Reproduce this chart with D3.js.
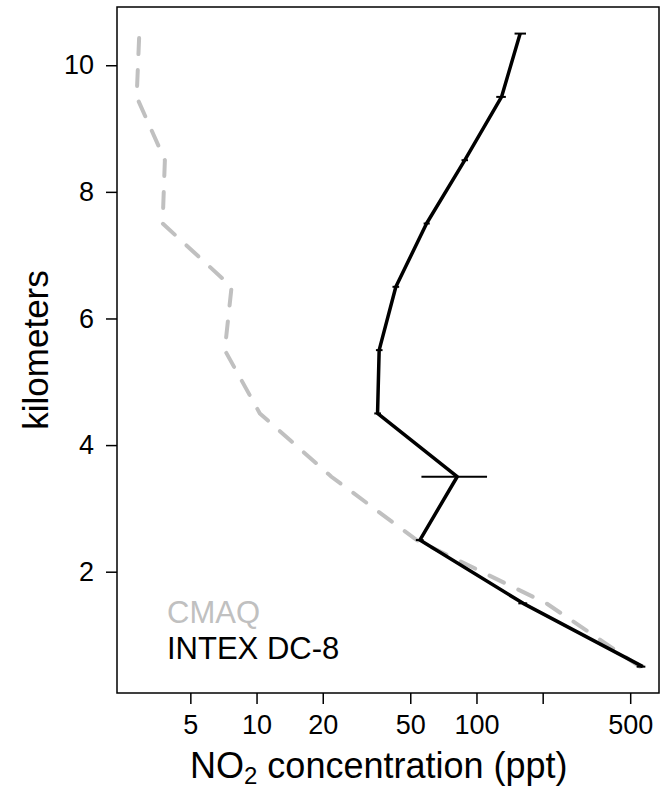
<!DOCTYPE html>
<html>
<head>
  <title>NO2 profile</title>
  <style>
    body { margin: 0; background: #fff; }
    #chart { width: 662px; height: 791px; }
    text { font-family: "Liberation Sans", Arial, sans-serif; }
  </style>
</head>
<body>
  <div id="chart"></div>

  <script src="https://d3js.org/d3.v7.min.js"></script>
  <script>
    // altitude bins (km)
    const altitudes = [0.5, 1.5, 2.5, 3.5, 4.5, 5.5, 6.5, 7.5, 8.5, 9.5, 10.5];
    // INTEX DC-8 observed NO2 (ppt) with error bar ends
    const intex = [571, 163, 55.3, 81.7, 35.5, 36.1, 43, 59.3, 88.5, 130, 158];
    const intexLo = [535, 155, 53, 56.2, 34.3, 34.9, 41.5, 57.5, 85.5, 123, 149];
    const intexHi = [586, 170, 57.5, 111.7, 36.8, 37.4, 44.5, 61.3, 91.5, 136, 168];
    // CMAQ modelled NO2 (ppt)
    const cmaq = [552, 208, 53.5, 21.9, 10.35, 7.17, 7.7, 3.74, 3.83, 2.85, 2.93];

    const xTicks = [5, 10, 20, 50, 100, 200, 500];
    const yTicks = [2, 4, 6, 8, 10];

    const W = 662, H = 791;
    const plotL = 117, plotR = 659, plotT = 7, plotB = 693;

    const svg = d3.select("#chart")
      .append("svg")
      .attr("width", W)
      .attr("height", H);

    const x = d3.scaleLog()
      .domain([2.32, 676])
      .range([plotL, plotR]);

    const y = d3.scaleLinear()
      .domain([0.084, 10.92])
      .range([plotB, plotT]);

    // axes
    const xAxis = svg.append("g")
      .attr("transform", `translate(0,${plotB})`)
      .call(d3.axisBottom(x)
        .tickValues(xTicks)
        .tickFormat(d => d === 200 ? "" : d)
        .tickSize(11)
        .tickPadding(11));

    const yAxis = svg.append("g")
      .attr("transform", `translate(${plotL},0)`)
      .call(d3.axisLeft(y)
        .tickValues(yTicks)
        .tickSize(11)
        .tickPadding(12));

    [xAxis, yAxis].forEach(g => {
      g.select(".domain").remove();
      g.selectAll("line").attr("stroke", "#000").attr("stroke-width", 1.5);
      g.selectAll("text")
        .attr("fill", "#000")
        .style("font-size", "27px");
    });

    // plot box
    svg.append("rect")
      .attr("x", plotL)
      .attr("y", plotT)
      .attr("width", plotR - plotL)
      .attr("height", plotB - plotT)
      .attr("fill", "none")
      .attr("stroke", "#000")
      .attr("stroke-width", 1.5);

    const line = d3.line()
      .x(d => x(d[0]))
      .y(d => y(d[1]));

    // CMAQ dashed
    svg.append("path")
      .datum(altitudes.map((a, i) => [cmaq[i], a]))
      .attr("d", line)
      .attr("fill", "none")
      .attr("stroke", "#c0c0c0")
      .attr("stroke-width", 4)
      .attr("stroke-dasharray", "16,16")
      .attr("stroke-linecap", "round");

    // INTEX line
    svg.append("path")
      .datum(altitudes.map((a, i) => [intex[i], a]))
      .attr("d", line)
      .attr("fill", "none")
      .attr("stroke", "#000")
      .attr("stroke-width", 3.5)
      .attr("stroke-linejoin", "round");

    // error bars
    svg.selectAll(".err")
      .data(altitudes)
      .enter()
      .append("line")
      .attr("class", "err")
      .attr("x1", (d, i) => x(intexLo[i]))
      .attr("x2", (d, i) => x(intexHi[i]))
      .attr("y1", d => y(d))
      .attr("y2", d => y(d))
      .attr("stroke", "#000")
      .attr("stroke-width", 2);

    // axis titles
    svg.append("text")
      .attr("x", 190)
      .attr("y", 778)
      .style("font-size", "36px")
      .html('NO<tspan dy="6" font-size="24px">2</tspan><tspan dy="-6"> concentration (ppt)</tspan>');

    svg.append("text")
      .attr("transform", `translate(48,${(plotT + plotB) / 2}) rotate(-90)`)
      .attr("text-anchor", "middle")
      .style("font-size", "35px")
      .text("kilometers");

    // legend
    svg.append("text")
      .attr("x", 167)
      .attr("y", 623)
      .attr("fill", "#c0c0c0")
      .style("font-size", "31px")
      .text("CMAQ");

    svg.append("text")
      .attr("x", 167)
      .attr("y", 659)
      .attr("fill", "#000")
      .style("font-size", "31px")
      .text("INTEX DC-8");
  </script>
</body>
</html>
